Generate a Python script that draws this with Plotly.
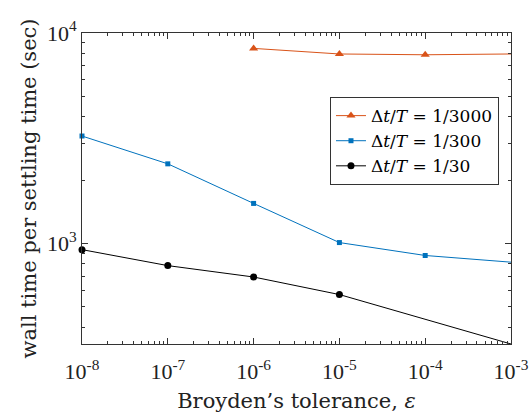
import plotly.graph_objects as go
import numpy as np

# Data
x_3000 = [1e-6, 1e-5, 1e-4, 1e-3]
y_3000 = [8450, 7950, 7880, 7950]

x_300 = [1e-8, 1e-7, 1e-6, 1e-5, 1e-4, 1e-3]
y_300 = [3240, 2390, 1550, 1010, 877, 815]

x_30 = [1e-8, 1e-7, 1e-6, 1e-5, 1e-3]
y_30 = [935, 785, 693, 572, 333]

x_ticks = [1e-8, 1e-7, 1e-6, 1e-5, 1e-4, 1e-3]
x_ticktext = ["10<sup>-8</sup>", "10<sup>-7</sup>", "10<sup>-6</sup>", "10<sup>-5</sup>", "10<sup>-4</sup>", "10<sup>-3</sup>"]
y_ticks = [1e3, 1e4]
y_ticktext = ["10<sup>3</sup>", "10<sup>4</sup>"]

FONT = "DejaVu Serif"
TICKFONT = "Liberation Serif"

fig = go.Figure()
fig.add_trace(go.Scatter(x=x_3000, y=y_3000, mode="lines+markers",
                         name="Δ<i>t</i>/<i>T</i> = 1/3000",
                         line=dict(color="#D95319", width=1),
                         marker=dict(symbol="triangle-up", size=8, color="#D95319"),
                         cliponaxis=False))
fig.add_trace(go.Scatter(x=x_300, y=y_300, mode="lines+markers",
                         name="Δ<i>t</i>/<i>T</i> = 1/300",
                         line=dict(color="#0072BD", width=1),
                         marker=dict(symbol="square", size=5, color="#0072BD"),
                         cliponaxis=False))
fig.add_trace(go.Scatter(x=x_30, y=y_30, mode="lines+markers",
                         name="Δ<i>t</i>/<i>T</i> = 1/30",
                         line=dict(color="black", width=1),
                         marker=dict(symbol="circle", size=7, color="black"),
                         cliponaxis=False))

x_minor = [m * 10.0 ** e for e in range(-8, -3) for m in range(2, 10)]
y_minor = [m * 10.0 ** e for e in range(2, 4) for m in range(2, 10)]

axis_common = dict(showgrid=False, zeroline=False, showline=True, linecolor="#333333",
                   linewidth=1, mirror="ticks", ticks="inside", ticklen=6,
                   tickcolor="#333333", ticklabeloverflow="allow", automargin=False,
                   tickfont=dict(family=TICKFONT, size=22, color="#222222"))

fig.update_xaxes(type="log", range=[-8, -3], tickvals=x_ticks, ticktext=x_ticktext,
                 ticklabelstandoff=8,
                 minor=dict(tickvals=x_minor, ticks="inside", ticklen=3, tickcolor="#333333"),
                 title=dict(text="Broyden’s tolerance, <i>ε</i>", font=dict(family=FONT, size=21, color="#222222"), standoff=9),
                 **axis_common)
fig.update_yaxes(type="log", range=[np.log10(333), 4], tickvals=y_ticks, ticktext=y_ticktext,
                 minor=dict(tickvals=y_minor, ticks="inside", ticklen=3, tickcolor="#333333"),
                 title=dict(text="wall time per settling time (sec)", font=dict(family=FONT, size=21, color="#222222"), standoff=4),
                 **axis_common)

fig.update_layout(width=529, height=417, margin=dict(l=82, r=18, t=33, b=73),
                  plot_bgcolor="white", paper_bgcolor="white",
                  showlegend=True,
                  legend=dict(x=0.972, y=0.794, xanchor="right", yanchor="top",
                              bgcolor="white", bordercolor="#333333", borderwidth=1,
                              font=dict(family=FONT, size=17, color="black"),
                              tracegroupgap=0, itemwidth=30))

fig.write_html("out.html")
